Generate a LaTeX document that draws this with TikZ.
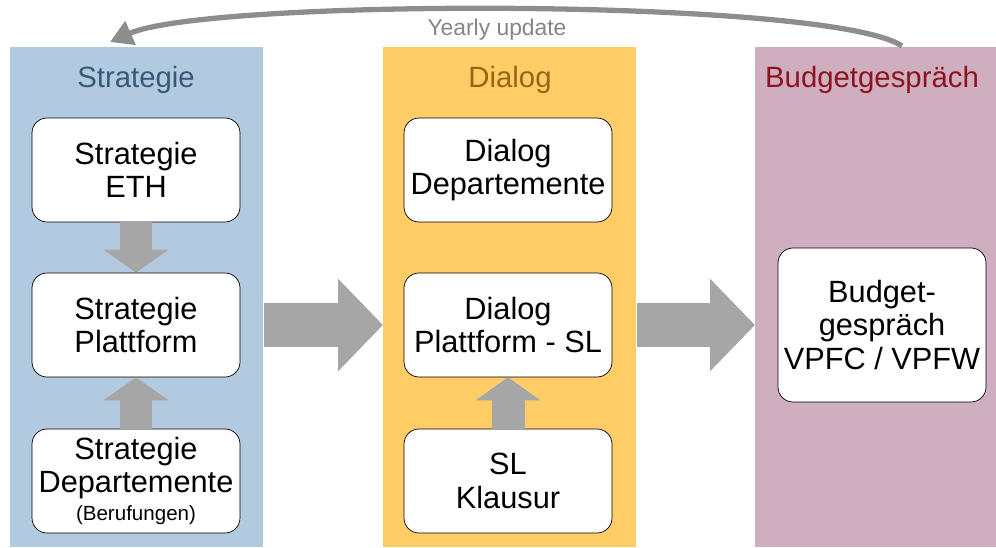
\documentclass[tikz,border=0pt]{standalone}
\usepackage{fontspec}
\setmainfont{Liberation Sans}
\usetikzlibrary{arrows.meta}
\definecolor{stratblue}{RGB}{178,202,224}
\definecolor{dialyellow}{RGB}{255,204,102}
\definecolor{budpink}{RGB}{207,174,192}
\definecolor{arrowgray}{RGB}{166,166,166}
\definecolor{titleblue}{RGB}{58,88,120}
\definecolor{titlebrown}{RGB}{150,102,20}
\definecolor{titlered}{RGB}{140,20,30}
\begin{document}
\begin{tikzpicture}[
x=0.02cm, y=-0.02cm,
column/.style={rectangle, inner sep=0pt, minimum height=10cm, anchor=north west},
title/.style={font=\fontsize{16.7}{19}\selectfont},
stepbox/.style={rectangle, rounded corners=0.3cm, draw=black, thin, fill=white,
  minimum width=4.16cm, minimum height=2.08cm, align=center, inner sep=2pt,
  font=\fontsize{17.5}{19}\selectfont},
fatarrow/.style={arrowgray, line width=0.66cm, -{Triangle[length=0.46cm, width=1.28cm]}},
bigarrow/.style={arrowgray, line width=0.9cm, -{Triangle[length=0.9cm, width=1.8cm]}}
]
\useasboundingbox (0,0) rectangle (996,547);
% columns
\node[column, fill=stratblue, minimum width=5.06cm] (stratcol) at (10,47) {};
\node[column, fill=dialyellow, minimum width=5.06cm] (dialcol) at (383,47) {};
\node[column, fill=budpink, minimum width=4.82cm] (budcol) at (755,47) {};
% titles
\node[title, text=titleblue] (strattitle) at (136,80) {Strategie};
\node[title, text=titlebrown] (dialtitle) at (510,80) {Dialog};
\node[title, text=titlered] (budtitle) at (872,80) {Budgetgespräch};
% boxes
\node[stepbox] (eth) at (136,170) {Strategie\\ETH};
\node[stepbox] (plat) at (136,325) {Strategie\\Plattform};
\node[stepbox] (dept) at (136,481) {Strategie\\Departemente\\[-3pt]{\fontsize{11.7}{13}\selectfont (Berufungen)}};
\node[stepbox] (ddept) at (508,170) {Dialog\\Departemente};
\node[stepbox] (dplat) at (508,325) {Dialog\\Plattform - SL};
\node[stepbox] (klaus) at (508,481) {SL\\Klausur};
\node[stepbox, minimum height=3.08cm] (budget) at (882,325) {Budget-\\gespräch\\VPFC / VPFW};
% arrows
\draw[fatarrow] (eth.south) -- (plat.north);
\draw[fatarrow] (dept.north) -- (plat.south);
\draw[fatarrow] (klaus.north) -- (dplat.south);
\draw[bigarrow] (plat.east -| stratcol.east) -- (dplat.west -| dialcol.west);
\draw[bigarrow] (dplat.east -| dialcol.east) -- (budget.west -| budcol.west);
% yearly update
\coordinate (updstart) at (902,46);
\coordinate (updend) at (110,42);
\draw[arrowgray!85!black, line width=3pt, -{Triangle[length=0.45cm, width=0.5cm]}]
  (updstart) .. controls (830,-2) and (210,-2) .. (updend);
\node[text=arrowgray!80!black, font=\fontsize{13}{15}\selectfont] (updlabel) at (497,30) {Yearly update};
\end{tikzpicture}
\end{document}
